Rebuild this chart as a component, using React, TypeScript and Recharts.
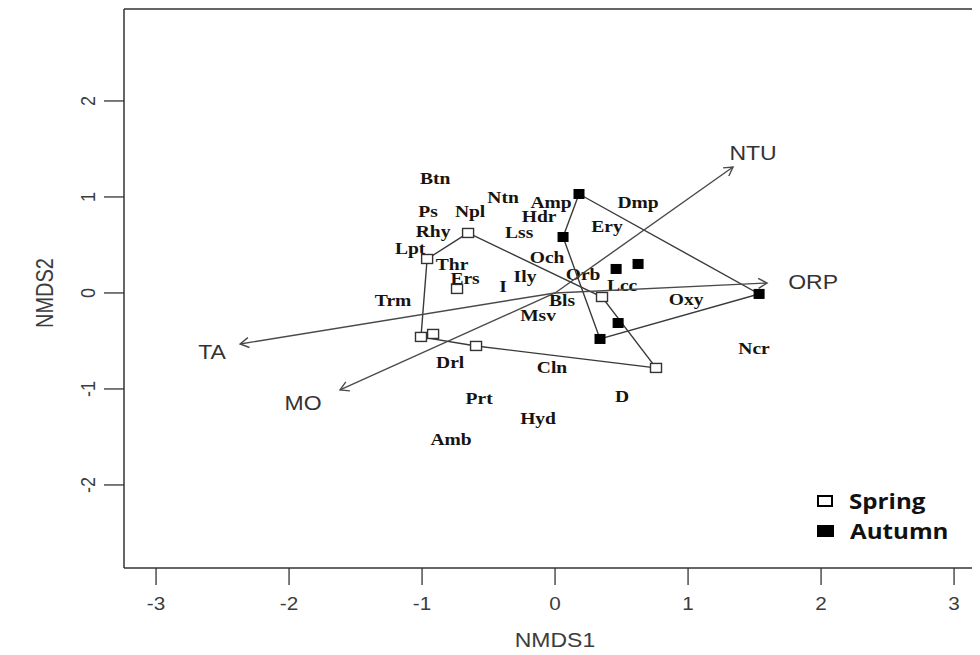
import React from 'react';
import { ScatterChart, Scatter, XAxis, YAxis, ReferenceLine } from 'recharts';

// ---- data ----
const speciesLabels = ['Btn','Ntn','Amp','Dmp','Ps','Npl','Hdr','Ery','Rhy','Lss','Lpt','Och','Thr','Ily','Ers','Orb','Lcc','I','Trm','Bls','Oxy','Msv','Ncr','Drl','Cln','D','Prt','Hyd','Amb'];
const speciesNMDS1 = [-0.902,-0.391,-0.030,0.624,-0.955,-0.639,-0.120,0.391,-0.917,-0.270,-1.090,-0.060,-0.774,-0.226,-0.677,0.211,0.504,-0.391,-1.218,0.053,0.985,-0.128,1.496,-0.789,-0.023,0.504,-0.571,-0.128,-0.782];
const speciesNMDS2 = [1.188,1.0,0.948,0.948,0.854,0.854,0.795,0.688,0.646,0.630,0.469,0.365,0.300,0.177,0.150,0.188,0.083,0.073,-0.083,-0.073,-0.063,-0.229,-0.573,-0.719,-0.771,-1.083,-1.094,-1.302,-1.521];

const springNMDS1 = [-0.654,-0.962,-0.737,-1.008,-0.917,-0.594,0.353,0.759];
const springNMDS2 = [0.625,0.354,0.042,-0.458,-0.427,-0.552,-0.042,-0.781];
const springHull = [0,1,3,5,7,6,0];

const autumnNMDS1 = [0.180,0.060,0.459,0.624,0.474,0.338,1.534];
const autumnNMDS2 = [1.031,0.583,0.250,0.302,-0.313,-0.479,-0.010];
const autumnHull = [0,6,5,1,0];

const envNames = ['NTU','ORP','TA','MO'];
const envNMDS1 = [1.338,1.594,-2.368,-1.617];
const envNMDS2 = [1.3125,0.104,-0.531,-1.010];
const envLabelNMDS1 = [1.489,1.94,-2.579,-1.895];
const envLabelNMDS2 = [1.458,0.115,-0.615,-1.150];

const xTicks = [-3,-2,-1,0,1,2,3];
const yTicks = [-2,-1,0,1,2];
const xDomain: [number, number] = [-3.241, 3.195];
const yDomain: [number, number] = [-2.865, 2.958];

// ---- derived tables ----
const speciesData = speciesLabels.map((name, i) => ({ name, x: speciesNMDS1[i], y: speciesNMDS2[i] }));
const springData = springNMDS1.map((x, i) => ({ x, y: springNMDS2[i] }));
const autumnData = autumnNMDS1.map((x, i) => ({ x, y: autumnNMDS2[i] }));
const springHullData = springHull.map((i) => springData[i]);
const autumnHullData = autumnHull.map((i) => autumnData[i]);
const envData = envNames.map((name, i) => ({ name, x: envNMDS1[i], y: envNMDS2[i] }));
const envLabelData = envNames.map((name, i) => ({ name, x: envLabelNMDS1[i], y: envLabelNMDS2[i] }));

const STRETCH = 1.15;
const AXIS_COLOR = '#333';
const TEXT_GRAY = '#3c3c3c';
const SANS = "'Liberation Sans', Arial, sans-serif";

const SText = ({ x, y, children, size, family, weight, fill, rotate }: any) => (
  <text
    transform={`translate(${x},${y}) scale(${STRETCH},1)${rotate ? ` rotate(${rotate})` : ''}`}
    x={0}
    y={0}
    textAnchor="middle"
    dominantBaseline="central"
    fontSize={size}
    fontFamily={family}
    fontWeight={weight}
    fill={fill}
  >
    {children}
  </text>
);

const XTick = (props: any) => {
  const { x, y, payload } = props;
  return (
    <g>
      <line x1={x} x2={x} y1={y} y2={y + 17} stroke={AXIS_COLOR} strokeWidth={1.3} />
      <SText x={x} y={y + 36} size={18} family={SANS} fill={TEXT_GRAY}>
        {payload.value}
      </SText>
    </g>
  );
};

const YTick = (props: any) => {
  const { x, y, payload } = props;
  return (
    <g>
      <line x1={x - 20} x2={x} y1={y} y2={y} stroke={AXIS_COLOR} strokeWidth={1.3} />
      <SText x={x - 36} y={y} size={18} family={SANS} fill={TEXT_GRAY} rotate={-90}>
        {payload.value}
      </SText>
    </g>
  );
};

const SpeciesShape = (p: any) => (
  <SText x={p.cx} y={p.cy} size={17} weight="bold" family="'Liberation Serif', 'Times New Roman', serif" fill="#17140f">
    {p.payload.name}
  </SText>
);

const EnvLabelShape = (p: any) => (
  <SText x={p.cx} y={p.cy} size={20} family={SANS} fill="#333">
    {p.payload.name}
  </SText>
);

const SpringShape = (p: any) => (
  <rect x={p.cx - 5.5} y={p.cy - 4.5} width={11} height={9} fill="#fff" stroke="#333" strokeWidth={1.4} />
);
const AutumnShape = (p: any) => (
  <rect x={p.cx - 5} y={p.cy - 4.5} width={10} height={9} fill="#000" stroke="#000" strokeWidth={1} />
);
const NoShape = () => <g />;

const arrowLine = (props: any) => {
  const pts = props.points || [];
  if (pts.length < 2) return <g />;
  const a = pts[0];
  const b = pts[pts.length - 1];
  const ang = Math.atan2(b.y - a.y, b.x - a.x);
  const len = 10;
  const sp = Math.PI / 6;
  const h1x = b.x - len * Math.cos(ang - sp);
  const h1y = b.y - len * Math.sin(ang - sp);
  const h2x = b.x - len * Math.cos(ang + sp);
  const h2y = b.y - len * Math.sin(ang + sp);
  return (
    <g>
      <line x1={a.x} y1={a.y} x2={b.x} y2={b.y} stroke="#4a4a4a" strokeWidth={1.4} />
      <polyline points={`${h1x},${h1y} ${b.x},${b.y} ${h2x},${h2y}`} fill="none" stroke="#4a4a4a" strokeWidth={1.4} />
    </g>
  );
};

const hullLine = { stroke: '#3a3a3a', strokeWidth: 1.4 };

export default function App() {
  return (
    <div style={{ position: 'relative', width: 972, height: 647 }}>
      <ScatterChart width={972} height={647} margin={{ top: 1, right: 0, bottom: 27, left: 56 }}>
        <XAxis
          type="number"
          dataKey="x"
          domain={xDomain}
          ticks={xTicks}
          allowDataOverflow
          height={60}
          tickSize={0}
          tickMargin={0}
          tickLine={false}
          axisLine={{ stroke: AXIS_COLOR, strokeWidth: 1.5 }}
          tick={<XTick />}
          interval={0}
          label={{
            content: (lp: any) => {
              const vb = lp.viewBox || {};
              return (
                <SText x={vb.x + 431} y={vb.y + 72} size={20} family={SANS} fill={TEXT_GRAY}>
                  NMDS1
                </SText>
              );
            },
          }}
        />
        <YAxis
          type="number"
          dataKey="y"
          domain={yDomain}
          ticks={yTicks}
          allowDataOverflow
          width={60}
          tickSize={0}
          tickMargin={0}
          tickLine={false}
          axisLine={{ stroke: AXIS_COLOR, strokeWidth: 1.5 }}
          tick={<YTick />}
          interval={0}
          label={{
            content: (lp: any) => {
              const vb = lp.viewBox || {};
              return (
                <SText x={vb.x - 19} y={285} size={20} family={SANS} fill={TEXT_GRAY} rotate={-90}>
                  NMDS2
                </SText>
              );
            },
          }}
        />
        <ReferenceLine y={yDomain[1]} stroke={AXIS_COLOR} strokeWidth={1.5} />
        <Scatter data={speciesData} shape={SpeciesShape} isAnimationActive={false} />
        <Scatter data={springHullData} shape={NoShape} line={hullLine} isAnimationActive={false} />
        <Scatter data={autumnHullData} shape={NoShape} line={hullLine} isAnimationActive={false} />
        {envData.map((e) => (
          <Scatter
            key={e.name}
            data={[{ x: 0, y: 0 }, { x: e.x, y: e.y }]}
            shape={NoShape}
            line={arrowLine}
            isAnimationActive={false}
          />
        ))}
        <Scatter data={envLabelData} shape={EnvLabelShape} isAnimationActive={false} />
        <Scatter data={springData} shape={SpringShape} isAnimationActive={false} />
        <Scatter data={autumnData} shape={AutumnShape} isAnimationActive={false} />
      </ScatterChart>
      <div
        style={{
          position: 'absolute',
          left: 809,
          top: 478,
          fontFamily: "'Open Sans', sans-serif",
          fontWeight: 700,
          fontSize: 21,
          color: '#111',
          lineHeight: '30px',
        }}
      >
        <div style={{ display: 'flex', alignItems: 'center' }}>
          <span style={{ display: 'inline-block', width: 12, height: 8, border: '2.5px solid #000', marginRight: 16 }} />
          <span style={{ display: 'inline-block', transform: `scaleX(${STRETCH})`, transformOrigin: 'left center' }}>Spring</span>
        </div>
        <div style={{ display: 'flex', alignItems: 'center' }}>
          <span style={{ display: 'inline-block', width: 17, height: 12, background: '#000', marginRight: 16 }} />
          <span style={{ display: 'inline-block', transform: `scaleX(${STRETCH})`, transformOrigin: 'left center' }}>Autumn</span>
        </div>
      </div>
    </div>
  );
}
